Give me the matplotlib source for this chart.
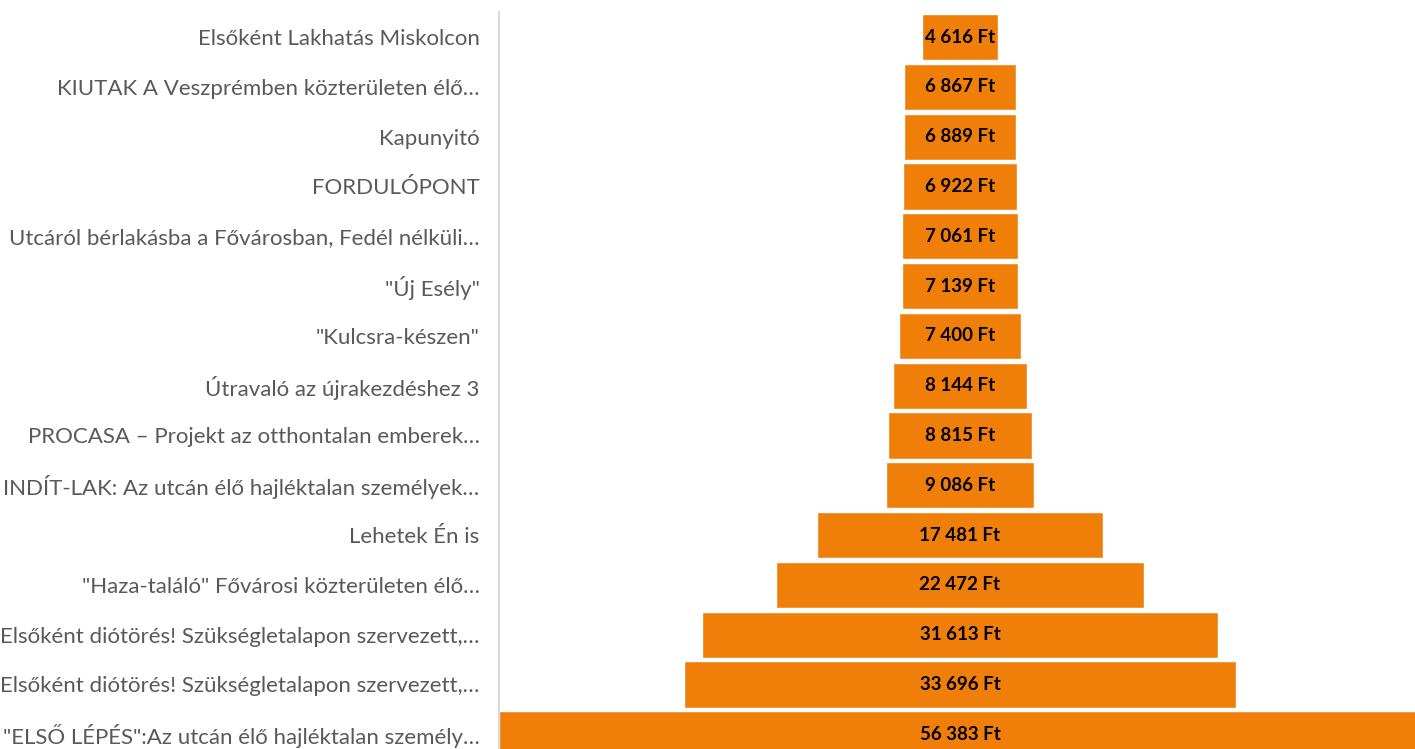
import matplotlib.pyplot as plt

plt.rcParams['font.family'] = ['Lato', 'DejaVu Sans']

labels = [
    'Elsőként Lakhatás Miskolcon',
    'KIUTAK A Veszprémben közterületen élő…',
    'Kapunyitó',
    'FORDULÓPONT',
    'Utcáról bérlakásba a Fővárosban, Fedél nélküli…',
    '"Új Esély"',
    '"Kulcsra-készen"',
    'Útravaló az újrakezdéshez 3',
    'PROCASA – Projekt az otthontalan emberek…',
    'INDÍT-LAK: Az utcán élő hajléktalan személyek…',
    'Lehetek Én is',
    '"Haza-találó" Fővárosi közterületen élő…',
    'Elsőként diótörés! Szükségletalapon szervezett,…',
    'Elsőként diótörés! Szükségletalapon szervezett,…',
    '"ELSŐ LÉPÉS":Az utcán élő hajléktalan személy…',
]
values = [4616, 6867, 6889, 6922, 7061, 7139, 7400, 8144, 8815, 9086,
          17481, 22472, 31613, 33696, 56383]

W, H = 1415, 749
fig = plt.figure(figsize=(W / 100, H / 100), dpi=100)

# funnel axes: x from 499 px to ~1421 px, rows ~49.8 px apart starting at y=12
row = 49.8
top = 12.2
n = len(values)
ax_left = 499 / W
ax_width = 922 / W
ax_top = 1 - top / H
ax_height = n * row / H
ax = fig.add_axes([ax_left, ax_top - ax_height, ax_width, ax_height])

ypos = list(range(n))
lefts = [-v / 2 for v in values]
ax.barh(ypos, values, left=lefts, height=0.93, color='#F07F0A',
        edgecolor='white', linewidth=1)

for y, v in zip(ypos, values):
    txt = f'{v:,}'.replace(',', ' ') + ' Ft'
    ax.text(0, y, txt, ha='center', va='center', fontsize=13.5,
            fontweight='bold', color='black')

vmax = max(values)
ax.set_xlim(-vmax / 2, vmax / 2)
ax.set_ylim(n - 0.5, -0.5)
ax.set_yticks(ypos)
ax.set_yticklabels(labels, fontsize=16, color='#595959')
ax.tick_params(axis='y', length=0, pad=14)
ax.set_xticks([])

for s in ['top', 'right', 'bottom']:
    ax.spines[s].set_visible(False)
ax.spines['left'].set_color('#D9D9D9')
ax.spines['left'].set_linewidth(1.5)

fig.savefig('out.png', dpi=100)
